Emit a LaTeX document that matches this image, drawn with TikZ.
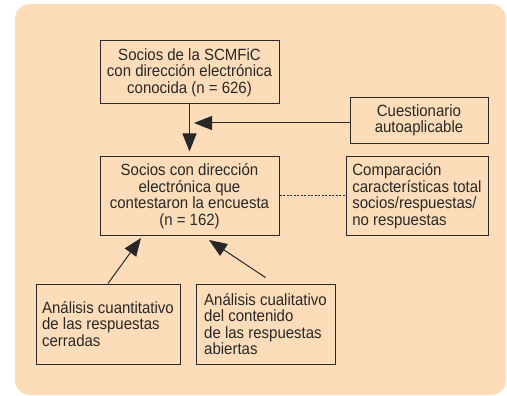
\documentclass[tikz,border=0pt]{standalone}
\usepackage{fontspec}
\setmainfont{Liberation Sans}[FakeStretch=0.92]
\usetikzlibrary{arrows.meta}
\definecolor{peach}{RGB}{253,220,185}
\definecolor{ink}{RGB}{40,40,40}

\begin{document}
\begin{tikzpicture}[x=1pt,y=-1pt,
  box/.style={draw=ink,line width=1pt,inner sep=0pt,text=ink,font=\fontsize{16.3}{16.5}\selectfont},
  arr/.style={draw=ink,line width=1pt,-{Triangle[length=18pt,width=14pt]}},
  dots/.style={draw=ink,line width=1pt,dash pattern=on 2pt off 1.5pt}]
\useasboundingbox (0,0) rectangle (507,396);
\fill[peach,rounded corners=15pt] (15,4) rectangle (506,395);

\node[box,align=center,minimum width=179pt,minimum height=63pt] at (189.5,72.5) (socios) {Socios de la SCMFiC\\con dirección electrónica\\conocida (n = 626)};
\node[box,align=center,minimum width=138pt,minimum height=46pt] at (419,120.5) (cuest) {Cuestionario\\autoaplicable};
\node[box,align=center,minimum width=179pt,minimum height=78pt] at (189.5,196) (resp) {Socios con dirección\\electrónica que\\contestaron la encuesta\\(n = 162)};
\node[box,align=left,minimum width=142pt,minimum height=78pt] at (417,196) (comp) {Comparación\\características total\\socios/respuestas/\\no respuestas};
\node[box,align=left,minimum width=144pt,minimum height=80pt] at (108,324) (cuanti) {Análisis cuantitativo\\de las respuestas\\cerradas};
\node[box,align=left,minimum width=139pt,minimum height=80pt] at (265.5,324) (cuali) {Análisis cualitativo\\del contenido\\de las respuestas\\abiertas};

\coordinate (meet) at (194,123);
\coordinate (tipa) at (141,238);
\coordinate (tipb) at (209,240);

\draw[arr] (socios.south) -- ([yshift=5pt]resp.north);
\draw[arr] (cuest.west |- meet) -- (meet);
\draw[dots] (resp.east) -- (comp.west);
\draw[arr] (cuanti.north) -- (tipa);
\draw[arr] ([yshift=6pt]cuali.north) -- (tipb);
\end{tikzpicture}
\end{document}
